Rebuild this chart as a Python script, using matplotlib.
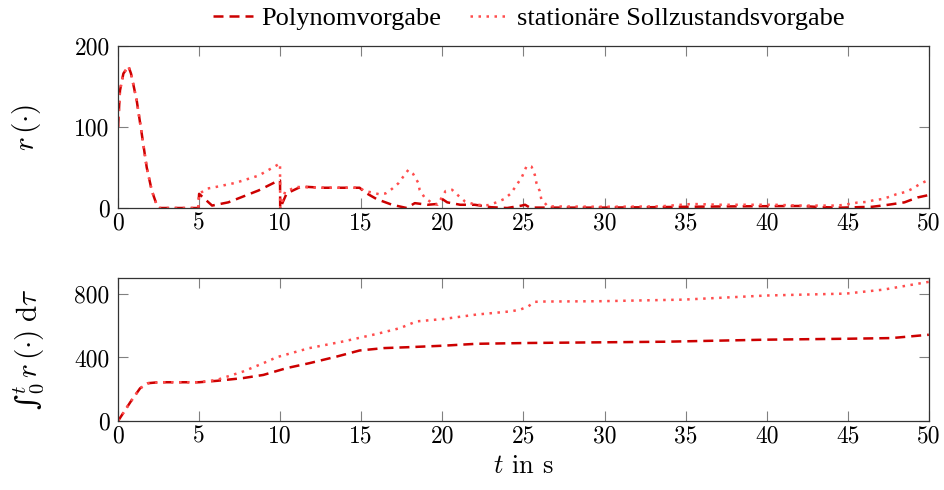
import matplotlib
matplotlib.use("Agg")
import matplotlib.pyplot as plt

# r(.) over time
t_poly = [0, 0.12, 0.33, 0.64, 0.8, 1.15, 1.46, 1.77, 2.08, 2.4, 2.55, 4.95, 5.0, 5.8, 6.8, 8.67,
          9.8, 9.99, 10.0, 10.4, 11.3, 12.6, 14.9, 15.2, 15.95, 16.9, 17.8, 18.3, 19.1, 19.7,
          20.0, 20.3, 21.1, 22.0, 23.0, 24.0, 24.9, 25.1, 25.4, 26, 30, 33, 35, 38, 42, 43.5,
          44.7, 45.6, 46.5, 47.5, 48.5, 49.3, 50]
r_poly = [100, 145, 166, 175, 166, 133, 92, 50, 21.6, 3, 0, 0, 17.5, 3, 7, 21.7,
          33, 34, 0, 18, 26.5, 25, 25, 19.6, 11, 4, 0, 6, 4, 5,
          11, 7, 4, 4, 1, 0, 3, 4, 0.5, 0.5, 0.5, 1, 1.5, 2, 2.5, 1,
          0.5, 1, 1.5, 4, 7, 13, 16]

t_stat = [0, 0.12, 0.33, 0.64, 0.8, 1.15, 1.46, 1.77, 2.08, 2.4, 2.55, 4.95, 5.0, 5.5, 5.8,
          7.23, 8.67, 9.99, 10.0, 10.3, 11.0, 12.6, 14.9, 15.2, 15.7, 16.1, 16.5, 16.9, 17.3,
          17.6, 17.9, 18.2, 18.5, 18.6, 18.9, 19.3, 19.7, 20.2, 20.6, 21.0, 21.4, 21.9, 22.4,
          22.8, 23.35, 23.8, 24.2, 24.5, 24.9, 25.2, 25.5, 25.7, 25.8, 26.0, 26.1, 26.5, 30,
          33.4, 34.4, 35.4, 37.2, 40.5, 42, 44.4, 45.1, 45.6, 46.15, 46.6, 47.1, 47.6, 48.0,
          48.6, 49.0, 49.4, 50]
r_stat = [100, 145, 166, 175, 166, 133, 92, 50, 21.6, 3, 0, 0, 17.5, 24, 25,
          31, 40, 55, 0, 20, 26, 25, 25, 21, 19, 17, 18, 23.7, 30.7,
          39, 47, 42, 31.6, 22.5, 13, 7, 4, 21, 22.5, 15, 8, 5, 3.5,
          3.5, 7, 11, 17.5, 26, 38, 52, 51, 41, 31, 21, 11, 2, 1.5,
          2, 3.5, 5, 4, 4, 3, 3, 5, 6.7, 7.5, 9.6, 11, 14, 17,
          20, 24, 29, 35]

# integral of r over time
ti_poly = [0, 0.78, 1.36, 1.85, 2.5, 5.0, 6.1, 7.7, 8.96, 10.4, 11.8, 13.5, 14.9, 16.4, 18.0,
           20.05, 22.1, 25.2, 33.7, 40, 45.1, 47.7, 50]
i_poly = [0, 122, 206, 238, 244, 244, 253, 270, 290, 333, 364, 406, 444, 459, 465,
          474, 486, 491, 499, 512, 518, 522, 543]

ti_stat = [0, 0.78, 1.36, 1.85, 2.5, 5.0, 6.1, 7.7, 8.96, 9.8, 11.8, 13.9, 15.95, 17.4, 18.4,
           20.05, 22.1, 24.2, 24.8, 25.3, 25.7, 26.2, 29.7, 34.85, 40, 44.9, 47.2, 50]
i_stat = [0, 122, 206, 238, 244, 244, 259, 311, 364, 402, 459, 501, 548, 585, 627,
          642, 670, 690, 701, 722, 750, 752, 754, 764, 790, 802, 827, 876]

xticks = list(range(0, 51, 5))

plt.rcParams['font.family'] = ['cmr10', 'DejaVu Serif']
plt.rcParams['mathtext.fontset'] = 'cm'
plt.rcParams['axes.unicode_minus'] = False

c_poly = '#cc0000'
c_stat = '#ff4d4d'
ls_poly = (0, (4, 2.4))
ls_stat = (0, (1, 2.2))

fig = plt.figure(figsize=(9.45, 4.9), dpi=100)
ax1 = fig.add_axes([0.1249, 0.5755, 0.858, 0.3306])
ax2 = fig.add_axes([0.1249, 0.1408, 0.858, 0.2918])

l1, = ax1.plot(t_poly, r_poly, color=c_poly, lw=1.8, ls=ls_poly)
l2, = ax1.plot(t_stat, r_stat, color=c_stat, lw=1.8, ls=ls_stat)
ax2.plot(ti_poly, i_poly, color=c_poly, lw=1.8, ls=ls_poly)
ax2.plot(ti_stat, i_stat, color=c_stat, lw=1.8, ls=ls_stat)

ax1.set_ylim(0, 200)
ax1.set_yticks([0, 100, 200])
ax2.set_ylim(0, 900)
ax2.set_yticks([0, 400, 800])

for ax in (ax1, ax2):
    ax.set_xlim(0, 50)
    ax.set_xticks(xticks)
    ax.tick_params(direction='in', top=True, right=True, length=7, width=0.8,
                   color='#808080', labelsize=17)
    ax.tick_params(axis='x', pad=3)
    ax.tick_params(axis='y', pad=6)
    for s in ax.spines.values():
        s.set_color('#333333')
        s.set_linewidth(0.9)

ax1.set_ylabel(r'$r\,(\cdot)$', fontsize=21)
ax2.set_ylabel('\u222b' + r'${}_0^t\,r\,(\cdot)\;\mathrm{d}\tau$', fontsize=21,
               family=['DejaVu Serif'])
ax1.yaxis.set_label_coords(-0.092, 0.5)
ax2.yaxis.set_label_coords(-0.088, 0.5)
ax2.set_xlabel(r'$t$ in s', fontsize=19, labelpad=5)

fig.legend([l1, l2], ['Polynomvorgabe', 'stationäre Sollzustandsvorgabe'],
           loc='center', bbox_to_anchor=(0.56, 0.962), ncol=2, frameon=False,
           prop={'family': 'Liberation Serif', 'size': 19}, handlelength=1.5,
           handletextpad=0.3, columnspacing=1.1, borderaxespad=0)

plt.savefig('out.png', dpi=100)
